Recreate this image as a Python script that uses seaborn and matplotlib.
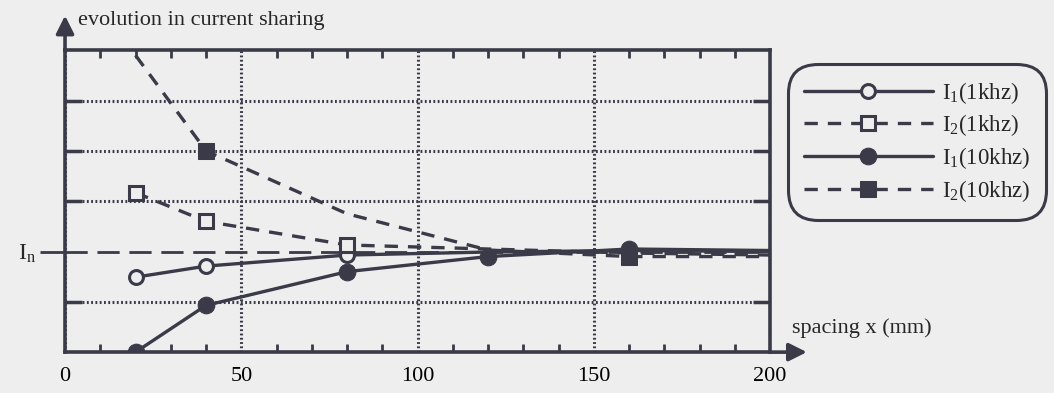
import matplotlib
matplotlib.use("Agg")
import matplotlib.pyplot as plt
import seaborn as sns

# spacing positions (mm) and relative current levels (I_n = 2)
spacing = [20, 40, 80, 120, 160, 200]
i1_1khz = [1.49, 1.71, 1.93, 1.99, 2.02, 2.0]
i2_1khz = [3.17, 2.60, 2.13, 2.05, 1.97, 1.93]
i1_10khz = [0.0, 0.93, 1.60, 1.90, 2.05, 2.02]
i2_10khz = [5.90, 4.0, 2.75, 2.03, 1.90, 1.90]
i_nominal = 2.0

x_ticks = [0, 50, 100, 150, 200]
y_grid = [1, 3, 4, 5]

INK = "#3a3a48"
BG = "#eeeeee"

sns.set_theme(style="ticks")
plt.rcParams['font.family'] = ['Liberation Serif', 'DejaVu Serif']
plt.rcParams['mathtext.fontset'] = 'custom'
plt.rcParams['mathtext.rm'] = 'Liberation Serif'
plt.rcParams['mathtext.it'] = 'Liberation Serif'

fig = plt.figure(figsize=(10.54, 3.93), dpi=100, facecolor=BG)
ax = fig.add_axes([0.0617, 0.104, 0.669, 0.768], facecolor=BG)

lw = 2.4
dash = (0, (4, 3))
sns.lineplot(x=spacing, y=i1_1khz, ax=ax, color=INK, lw=lw, marker='o', markersize=10,
             markerfacecolor=BG, markeredgecolor=INK, markeredgewidth=2.2,
             markevery=[0, 1, 2], label=r"I$_1$(1khz)")
sns.lineplot(x=spacing, y=i2_1khz, ax=ax, color=INK, lw=lw, linestyle=dash,
             marker='s', markersize=10, markerfacecolor=BG, markeredgecolor=INK,
             markeredgewidth=2.2, markevery=[0, 1, 2], label=r"I$_2$(1khz)")
sns.lineplot(x=spacing, y=i1_10khz, ax=ax, color=INK, lw=lw, marker='o', markersize=12,
             markerfacecolor=INK, markeredgecolor=INK, markevery=[0, 1, 2, 3, 4],
             label=r"I$_1$(10khz)")
sns.lineplot(x=spacing, y=i2_10khz, ax=ax, color=INK, lw=lw, linestyle=dash,
             marker='s', markersize=11, markerfacecolor=INK, markeredgecolor=INK,
             markevery=[1, 4], label=r"I$_2$(10khz)")

# nominal current reference line
ax.axhline(i_nominal, color=INK, lw=2, linestyle=(0, (8, 3.5)), zorder=1)

ax.set_xlim(0, 200)
ax.set_ylim(0, 6)
ax.set_xticks(x_ticks)
ax.set_xticklabels([str(v) for v in x_ticks], fontsize=16)
ax.set_xticks(range(0, 201, 10), minor=True)
ax.set_yticks(y_grid)
ax.set_yticklabels([])
ax.set_yticks([i_nominal], labels=[r"I$_\mathrm{n}$"], minor=True)
ax.set_xlabel("")
ax.set_ylabel("")

ax.tick_params(axis='x', which='major', length=0, pad=11, colors=INK, labelcolor='black')
ax.tick_params(axis='x', which='minor', direction='in', length=6, width=2,
               top=True, bottom=True, color=INK)
ax.tick_params(axis='y', which='major', direction='in', length=12, width=2.5,
               left=True, right=True, color=INK)
ax.tick_params(axis='y', which='minor', direction='out', length=18, width=2,
               left=True, right=False, color=INK, labelsize=17, pad=3)

ax.grid(True, which='major', color=INK, lw=2.2, linestyle=(0, (0.6, 0.8)))
for s in ax.spines.values():
    s.set_linewidth(2.6)
    s.set_color(INK)

# axis arrows
ax.annotate("", xy=(0, 1.115), xytext=(0, 1.0), xycoords='axes fraction',
            arrowprops=dict(arrowstyle="-|>,head_width=0.45,head_length=0.9",
                            color=INK, lw=2.6, shrinkA=0, shrinkB=0), annotation_clip=False)
ax.annotate("", xy=(1.052, 0), xytext=(1.0, 0), xycoords='axes fraction',
            arrowprops=dict(arrowstyle="-|>,head_width=0.45,head_length=0.9",
                            color=INK, lw=2.6, shrinkA=0, shrinkB=0), annotation_clip=False)
fig.text(0.074, 0.948, "evolution in current sharing", fontsize=16, va='center', ha='left')
fig.text(0.751, 0.165, "spacing x (mm)", fontsize=16, va='center', ha='left')

ax.get_legend().remove()
handles, labels = ax.get_legend_handles_labels()
leg = fig.legend(handles, labels, loc='upper right', bbox_to_anchor=(0.997, 0.85),
                 fontsize=16.5, handlelength=5.6, handletextpad=0.4, labelspacing=0.3,
                 borderpad=0.4, frameon=True, fancybox=True, facecolor=BG, edgecolor=INK,
                 framealpha=1, markerscale=1.0)
leg.get_frame().set_linewidth(2.2)
leg.get_frame().set_boxstyle("round,pad=0.3,rounding_size=1.3")

fig.savefig("out.png", dpi=100, facecolor=BG)
